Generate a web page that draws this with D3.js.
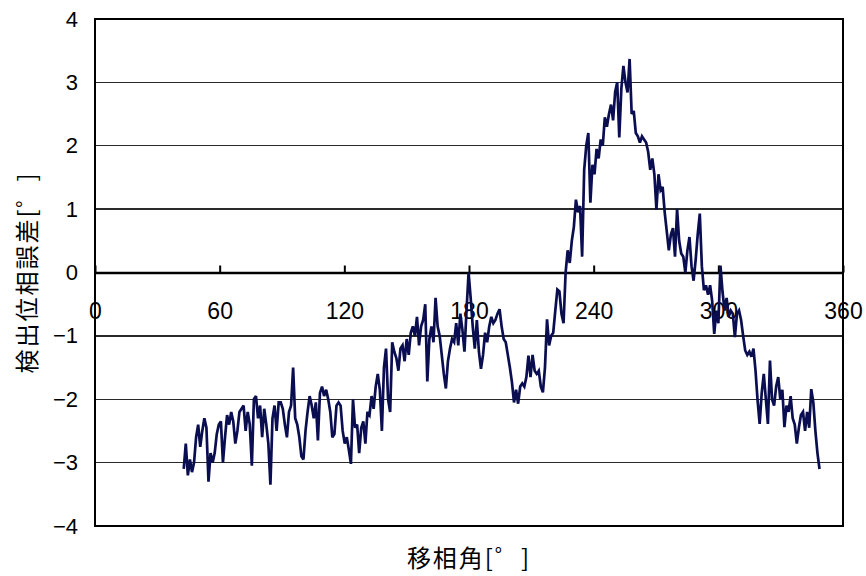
<!DOCTYPE html>
<html>
<head>
<meta charset="utf-8">
<script src="https://cdn.jsdelivr.net/npm/d3@7"></script>
<style>
  html, body { margin: 0; padding: 0; background: #fff; }
  svg { display: block; }
</style>
</head>
<body>
<svg id="chart" width="866" height="576"></svg>
<script>
// Sample grid of the phase-shift angle [deg]: first sample and spacing
const angleStart = 42.7;
const angleStep = 0.9935;

// Detected phase error [deg], one value per sample
const phaseError = [
  -3.1, -2.7, -3.2, -2.95, -3.15, -3.0, -2.6, -2.4, -2.75, -2.5,
  -2.3, -2.45, -3.3, -2.85, -3.0, -2.85, -2.55, -2.4, -2.35, -3.0,
  -2.6, -2.25, -2.4, -2.2, -2.35, -2.7, -2.5, -2.2, -2.15, -2.1,
  -2.5, -2.2, -2.4, -3.05, -2.0, -1.95, -2.3, -2.1, -2.6, -2.15,
  -2.4, -2.7, -3.35, -2.3, -2.1, -2.5, -2.05, -2.05, -2.15, -2.4,
  -2.6, -2.2, -2.1, -1.5, -2.3, -2.4, -2.6, -2.9, -2.95, -2.5,
  -2.2, -1.95, -2.1, -2.3, -2.05, -2.65, -1.9, -1.8, -1.95, -1.85,
  -2.0, -2.2, -2.6, -2.55, -2.1, -2.05, -2.1, -2.5, -2.7, -2.6,
  -2.8, -3.02, -2.0, -2.45, -2.4, -2.85, -2.45, -2.35, -2.7, -2.2,
  -2.25, -1.95, -2.15, -1.8, -1.6, -1.85, -2.5, -1.5, -1.2, -2.0,
  -2.2, -1.1, -1.25, -1.35, -1.55, -1.2, -1.15, -1.4, -1.05, -1.3,
  -0.95, -0.85, -1.0, -0.7, -1.15, -0.85, -0.75, -0.5, -1.72, -1.05,
  -0.85, -1.1, -0.4, -0.85, -1.0, -1.3, -1.6, -1.83, -1.4, -1.2,
  -1.05, -1.1, -0.8, -1.15, -0.65, -0.9, -1.25, -0.6, 0.0, -0.4,
  -0.85, -1.2, -0.75, -1.25, -1.52, -1.3, -0.95, -1.1, -0.85, -0.7,
  -0.8, -0.75, -0.65, -0.58, -0.85, -1.05, -1.1, -1.3, -1.5, -1.73,
  -2.05, -1.85, -2.07, -1.8, -1.75, -1.8, -1.65, -1.31, -1.65, -1.3,
  -1.55, -1.6, -1.55, -1.8, -1.89, -1.5, -0.74, -1.15, -1.0, -0.95,
  -0.6, -0.27, -0.3, -0.65, -0.8, 0.0, 0.35, 0.15, 0.5, 0.72,
  1.15, 0.95, 1.05, 0.25, 1.62, 2.0, 2.2, 1.1, 1.7, 1.55,
  1.95, 1.8, 2.1, 2.0, 2.45, 2.3, 2.5, 2.65, 2.4, 2.85,
  3.0, 2.13, 2.9, 3.26, 3.0, 2.84, 3.37, 2.5, 2.55, 2.2,
  2.15, 2.05, 2.15, 2.1, 2.05, 1.9, 1.62, 1.8, 1.55, 0.99,
  1.55, 1.3, 1.35, 0.95, 0.65, 0.35, 0.6, 0.7, 0.25, 1.0,
  0.5, 0.3, 0.25, 0.0, 0.35, 0.56, 0.1, -0.13, 0.2, 0.6,
  0.93, 0.1, -0.28, -0.2, -0.35, -0.2, -0.45, -0.97, -0.6, -0.8,
  0.11, -0.3, -0.6, -0.4, -0.7, -0.6, -0.65, -1.02, -0.65, -0.6,
  -0.75, -1.0, -1.23, -1.3, -1.25, -1.33, -1.2, -1.55, -2.02, -2.39,
  -1.9, -1.6, -2.0, -2.39, -1.39, -2.0, -2.1, -1.8, -1.65, -2.0,
  -1.85, -2.44, -2.1, -2.2, -1.95, -2.3, -2.4, -2.7, -2.45, -2.25,
  -2.2, -2.5, -2.2, -2.45, -1.84, -2.05, -2.5, -2.85, -3.1
];

const xTicks = [0, 60, 120, 180, 240, 300, 360];
const yTicks = [-4, -3, -2, -1, 0, 1, 2, 3, 4];

const xTitle = "移相角[゜]";
const yTitle = "検出位相誤差[゜]";

const svg = d3.select("#chart");
const plot = { left: 95, right: 843, top: 19, bottom: 526 };

const x = d3.scaleLinear().domain([0, 360]).range([plot.left, plot.right]);
const y = d3.scaleLinear().domain([-4, 4]).range([plot.bottom, plot.top]);

const numFont = "'Liberation Sans', Arial, sans-serif";
const jpFont = "'Noto Sans CJK JP', 'Noto Sans', sans-serif";

// horizontal gridlines
svg.append("g")
  .selectAll("line")
  .data(yTicks)
  .join("line")
  .attr("x1", plot.left).attr("x2", plot.right)
  .attr("y1", d => y(d)).attr("y2", d => y(d))
  .attr("stroke", "#2a2a2a")
  .attr("stroke-width", 1.3)
  .attr("shape-rendering", "crispEdges");

// plot frame
svg.append("rect")
  .attr("x", plot.left).attr("y", plot.top)
  .attr("width", plot.right - plot.left)
  .attr("height", plot.bottom - plot.top)
  .attr("fill", "none")
  .attr("stroke", "#000")
  .attr("stroke-width", 2);

// y axis labels
const yAxis = svg.append("g")
  .attr("transform", `translate(${plot.left},0)`)
  .call(d3.axisLeft(y).tickValues(yTicks).tickSize(0).tickPadding(17)
    .tickFormat(d3.format("d")));
yAxis.select(".domain").remove();
yAxis.selectAll("text")
  .attr("font-family", numFont)
  .attr("font-size", 22)
  .attr("fill", "#000");

// x axis on the zero line: ticks point up, labels sit below
const xAxis = svg.append("g")
  .attr("transform", `translate(0,${y(0)})`)
  .call(d3.axisBottom(x).tickValues(xTicks).tickSizeInner(-7).tickSizeOuter(0)
    .tickPadding(30).tickFormat(d3.format("d")));
xAxis.select(".domain")
  .attr("stroke", "#000")
  .attr("stroke-width", 2.4);
xAxis.selectAll(".tick line")
  .attr("stroke", "#000")
  .attr("stroke-width", 2);
xAxis.selectAll("text")
  .attr("font-family", numFont)
  .attr("font-size", 23)
  .attr("fill", "#000");

// data trace
const line = d3.line()
  .x((d, i) => x(angleStart + i * angleStep))
  .y(d => y(d));

svg.append("path")
  .datum(phaseError)
  .attr("d", line)
  .attr("fill", "none")
  .attr("stroke", "#0a0e50")
  .attr("stroke-width", 2.7)
  .attr("stroke-linejoin", "miter")
  .attr("stroke-miterlimit", 3);

// axis titles
svg.append("text")
  .attr("x", (plot.left + plot.right) / 2)
  .attr("y", 567)
  .attr("text-anchor", "middle")
  .attr("font-family", jpFont)
  .attr("font-size", 24)
  .attr("letter-spacing", 2)
  .attr("fill", "#000")
  .text(xTitle);

svg.append("text")
  .attr("transform", `translate(25,${(plot.top + plot.bottom) / 2}) rotate(-90)`)
  .attr("text-anchor", "middle")
  .attr("dominant-baseline", "central")
  .attr("font-family", jpFont)
  .attr("font-size", 24)
  .attr("letter-spacing", 2)
  .attr("fill", "#000")
  .text(yTitle);
</script>
</body>
</html>
